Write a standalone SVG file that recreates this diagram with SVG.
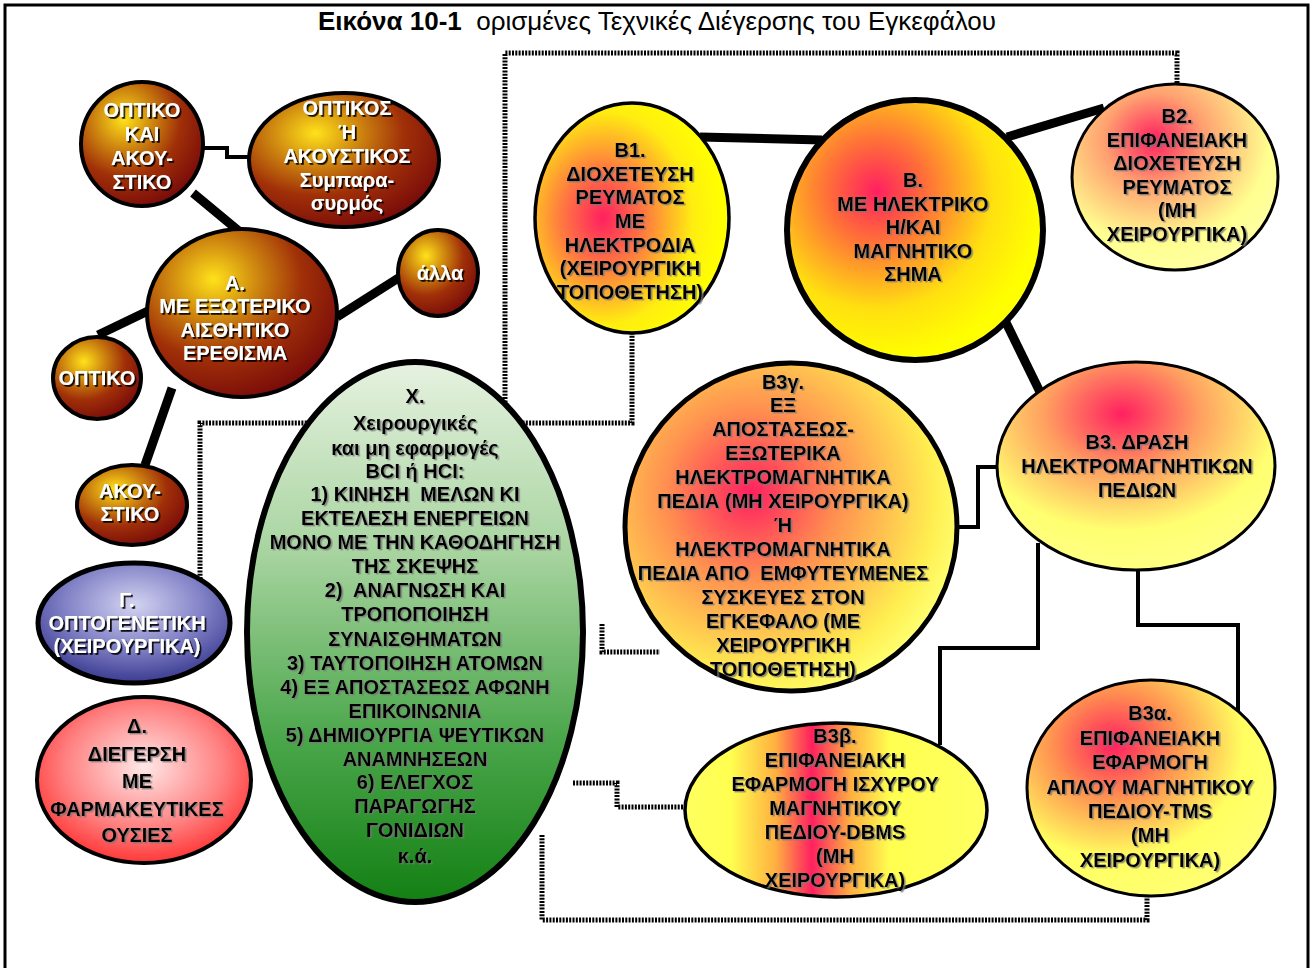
<svg xmlns="http://www.w3.org/2000/svg" width="1314" height="968" viewBox="0 0 1314 968">
<style>
.t{font-family:"Liberation Sans",Arial,sans-serif;font-weight:bold;font-size:20px;text-anchor:middle;white-space:pre}
.w{fill:#fff;filter:url(#shW)}
.k{fill:#000;filter:url(#shK)}
.dot{fill:none;stroke:#000;stroke-width:5;stroke-dasharray:2 1.3}
.thick{fill:none;stroke:#000;stroke-width:9}
.thin{fill:none;stroke:#000;stroke-width:4}
</style>
<defs>
<filter id="shW" x="-10%" y="-20%" width="130%" height="150%"><feDropShadow dx="1.8" dy="1.8" stdDeviation="0.3" flood-color="#000" flood-opacity="0.9"/></filter>
<filter id="shK" x="-10%" y="-20%" width="130%" height="150%"><feDropShadow dx="1.6" dy="1.4" stdDeviation="0.4" flood-color="#777" flood-opacity="0.8"/></filter>
<radialGradient id="gBrown" cx="0.35" cy="0.3" r="0.75" fx="0.35" fy="0.3"><stop offset="0" stop-color="#ffe21a"/><stop offset="0.3" stop-color="#d08a10"/><stop offset="0.62" stop-color="#a03008"/><stop offset="1" stop-color="#780a0a"/></radialGradient>
<radialGradient id="gBlue" cx="0.5" cy="0.35" r="0.7"><stop offset="0" stop-color="#d4d4f2"/><stop offset="0.5" stop-color="#8484c8"/><stop offset="1" stop-color="#2e2e88"/></radialGradient>
<radialGradient id="gPink" cx="0.5" cy="0.42" r="0.62"><stop offset="0" stop-color="#ffe8e8"/><stop offset="0.6" stop-color="#ff8080"/><stop offset="1" stop-color="#ff2a2a"/></radialGradient>
<linearGradient id="gGreen" x1="0" y1="0" x2="0" y2="1"><stop offset="0" stop-color="#e6f2e0"/><stop offset="0.35" stop-color="#a8d4a0"/><stop offset="0.7" stop-color="#4aa64a"/><stop offset="1" stop-color="#138013"/></linearGradient>
<radialGradient id="gB1" cx="0.35" cy="0.5" r="0.62"><stop offset="0" stop-color="#ff2060"/><stop offset="0.35" stop-color="#ff7a40"/><stop offset="0.75" stop-color="#ffee10"/><stop offset="1" stop-color="#ffff00"/></radialGradient>
<radialGradient id="gB" cx="0.35" cy="0.35" r="0.65"><stop offset="0" stop-color="#ff2060"/><stop offset="0.3" stop-color="#ff7038"/><stop offset="0.7" stop-color="#ffe010"/><stop offset="1" stop-color="#ffff00"/></radialGradient>
<radialGradient id="gB2" cx="0.4" cy="0.3" r="0.7"><stop offset="0" stop-color="#ff2060"/><stop offset="0.35" stop-color="#ffa070"/><stop offset="0.8" stop-color="#ffff90"/><stop offset="1" stop-color="#ffffa0"/></radialGradient>
<radialGradient id="gB3" cx="0.45" cy="0.25" r="0.7"><stop offset="0" stop-color="#ff2060"/><stop offset="0.4" stop-color="#ffa060"/><stop offset="0.8" stop-color="#ffff70"/><stop offset="1" stop-color="#ffff80"/></radialGradient>
<radialGradient id="gB3g" cx="0.38" cy="0.4" r="0.65"><stop offset="0" stop-color="#ff2060"/><stop offset="0.4" stop-color="#ff9050"/><stop offset="0.85" stop-color="#ffee50"/><stop offset="1" stop-color="#ffff70"/></radialGradient>
<linearGradient id="gB3b" x1="0" y1="0" x2="1" y2="0"><stop offset="0" stop-color="#ffff60"/><stop offset="0.15" stop-color="#ffff50"/><stop offset="0.3" stop-color="#ffb040"/><stop offset="0.42" stop-color="#ff2060"/><stop offset="0.55" stop-color="#ffb040"/><stop offset="0.68" stop-color="#ffff50"/><stop offset="1" stop-color="#ffff60"/></linearGradient>
<radialGradient id="gB3a" cx="0.35" cy="0.3" r="0.7"><stop offset="0" stop-color="#ff2060"/><stop offset="0.35" stop-color="#ff9050"/><stop offset="0.75" stop-color="#ffff60"/><stop offset="1" stop-color="#ffff70"/></radialGradient>
</defs>
<rect x="0" y="0" width="1314" height="968" fill="#fff"/>
<path d="M5,968 V5 H1308 V968" fill="none" stroke="#000" stroke-width="3"/>
<text x="657" y="30" style="font-family:'Liberation Sans',Arial,sans-serif;font-size:26px;text-anchor:middle;white-space:pre"><tspan font-weight="bold">Εικόνα 10-1</tspan>  ορισμένες Τεχνικές Διέγερσης του Εγκεφάλου</text>

<g id="connectors">
<path class="dot" d="M1177,83 V53 H505 V402"/>
<path class="dot" d="M200,579 V423 H632 V333"/>
<path class="dot" d="M602,624 V652 H660"/>
<path class="dot" d="M573,783 H617 V807 H687"/>
<path class="dot" d="M542,835 V920 H1147 V897"/>
<path class="thin" d="M203,148 H227 V157 H250"/>
<line class="thick" x1="193" y1="193" x2="240" y2="232"/>
<line class="thick" x1="337" y1="317" x2="400" y2="277"/>
<line class="thick" x1="98" y1="335" x2="150" y2="310"/>
<line class="thick" x1="172" y1="388" x2="145" y2="465"/>
<line class="thick" x1="700" y1="137" x2="822" y2="140"/>
<line class="thick" x1="1007" y1="137" x2="1104" y2="108"/>
<line class="thick" x1="995" y1="300" x2="1040" y2="392"/>
<path class="thin" d="M998,467 H978 V527 H955"/>
<path class="thin" d="M1038,543 V648 H940 V745"/>
<path class="thin" d="M1138,570 V625 H1238 V712"/>
</g>

<g id="n-optiko-kai">
<ellipse cx="142" cy="144" rx="61" ry="62" fill="url(#gBrown)" stroke="#000" stroke-width="4"/>
<text class="t w" x="142" y="117">ΟΠΤΙΚΟ</text>
<text class="t w" x="142" y="141">ΚΑΙ</text>
<text class="t w" x="142" y="165">ΑΚΟΥ-</text>
<text class="t w" x="142" y="189">ΣΤΙΚΟ</text>
</g>
<g id="n-optikos-i">
<ellipse cx="344" cy="160" rx="95" ry="67" fill="url(#gBrown)" stroke="#000" stroke-width="4"/>
<text class="t w" x="347" y="115">ΟΠΤΙΚΟΣ</text>
<text class="t w" x="347" y="139">Ή</text>
<text class="t w" x="347" y="163">ΑΚΟΥΣΤΙΚΟΣ</text>
<text class="t w" x="347" y="187">Συμπαρα-</text>
<text class="t w" x="347" y="210">συρμός</text>
</g>
<g id="n-A">
<ellipse cx="242" cy="313" rx="95" ry="84" fill="url(#gBrown)" stroke="#000" stroke-width="4"/>
<text class="t w" x="235" y="290">Α.</text>
<text class="t w" x="235" y="313">ΜΕ ΕΞΩΤΕΡΙΚΟ</text>
<text class="t w" x="235" y="337">ΑΙΣΘΗΤΙΚΟ</text>
<text class="t w" x="235" y="360">ΕΡΕΘΙΣΜΑ</text>
</g>
<g id="n-alla">
<ellipse cx="438" cy="273" rx="40" ry="43" fill="url(#gBrown)" stroke="#000" stroke-width="4"/>
<text class="t w" x="440" y="280">άλλα</text>
</g>
<g id="n-optiko">
<ellipse cx="97" cy="378" rx="44" ry="41" fill="url(#gBrown)" stroke="#000" stroke-width="4"/>
<text class="t w" x="97" y="385">ΟΠΤΙΚΟ</text>
</g>
<g id="n-akoustiko">
<ellipse cx="132" cy="505" rx="55" ry="40" fill="url(#gBrown)" stroke="#000" stroke-width="4"/>
<text class="t w" x="130" y="498">ΑΚΟΥ-</text>
<text class="t w" x="130" y="521">ΣΤΙΚΟ</text>
</g>
<g id="n-G">
<ellipse cx="134" cy="623" rx="96" ry="60" fill="url(#gBlue)" stroke="#000" stroke-width="5"/>
<text class="t w" x="127" y="607">Γ.</text>
<text class="t w" x="127" y="630">ΟΠΤΟΓΕΝΕΤΙΚΗ</text>
<text class="t w" x="127" y="653">(ΧΕΙΡΟΥΡΓΙΚΑ)</text>
</g>
<g id="n-D">
<ellipse cx="144" cy="780" rx="107" ry="83" fill="url(#gPink)" stroke="#000" stroke-width="4"/>
<text class="t k" x="137" y="733">Δ.</text>
<text class="t k" x="137" y="761">ΔΙΕΓΕΡΣΗ</text>
<text class="t k" x="137" y="788">ΜΕ</text>
<text class="t k" x="137" y="816">ΦΑΡΜΑΚΕΥΤΙΚΕΣ</text>
<text class="t k" x="137" y="842">ΟΥΣΙΕΣ</text>
</g>
<g id="n-X">
<ellipse cx="415" cy="632" rx="168" ry="270" fill="url(#gGreen)" stroke="#000" stroke-width="6"/>
<text class="t k" x="415" y="403">Χ.</text>
<text class="t k" x="415" y="430">Χειρουργικές</text>
<text class="t k" x="415" y="455">και μη εφαρμογές</text>
<text class="t k" x="415" y="478">BCI ή HCI:</text>
<text class="t k" x="415" y="501">1) ΚΙΝΗΣΗ  ΜΕΛΩΝ ΚΙ</text>
<text class="t k" x="415" y="525">ΕΚΤΕΛΕΣΗ ΕΝΕΡΓΕΙΩΝ</text>
<text class="t k" x="415" y="549">ΜΟΝΟ ΜΕ ΤΗΝ ΚΑΘΟΔΗΓΗΣΗ</text>
<text class="t k" x="415" y="573">ΤΗΣ ΣΚΕΨΗΣ</text>
<text class="t k" x="415" y="597">2)  ΑΝΑΓΝΩΣΗ ΚΑΙ</text>
<text class="t k" x="415" y="621">ΤΡΟΠΟΠΟΙΗΣΗ</text>
<text class="t k" x="415" y="646">ΣΥΝΑΙΣΘΗΜΑΤΩΝ</text>
<text class="t k" x="415" y="670">3) ΤΑΥΤΟΠΟΙΗΣΗ ΑΤΟΜΩΝ</text>
<text class="t k" x="415" y="694">4) ΕΞ ΑΠΟΣΤΑΣΕΩΣ ΑΦΩΝΗ</text>
<text class="t k" x="415" y="718">ΕΠΙΚΟΙΝΩΝΙΑ</text>
<text class="t k" x="415" y="742">5) ΔΗΜΙΟΥΡΓΙΑ ΨΕΥΤΙΚΩΝ</text>
<text class="t k" x="415" y="766">ΑΝΑΜΝΗΣΕΩΝ</text>
<text class="t k" x="415" y="789">6) ΕΛΕΓΧΟΣ</text>
<text class="t k" x="415" y="813">ΠΑΡΑΓΩΓΗΣ</text>
<text class="t k" x="415" y="837">ΓΟΝΙΔΙΩΝ</text>
<text class="t k" x="415" y="863">κ.ά.</text>
</g>
<g id="n-B1">
<ellipse cx="632" cy="218" rx="97" ry="115" fill="url(#gB1)" stroke="#000" stroke-width="3.5"/>
<text class="t k" x="630" y="157">Β1.</text>
<text class="t k" x="630" y="181">ΔΙΟΧΕΤΕΥΣΗ</text>
<text class="t k" x="630" y="204">ΡΕΥΜΑΤΟΣ</text>
<text class="t k" x="630" y="228">ΜΕ</text>
<text class="t k" x="630" y="252">ΗΛΕΚΤΡΟΔΙΑ</text>
<text class="t k" x="630" y="275">(ΧΕΙΡΟΥΡΓΙΚΗ</text>
<text class="t k" x="630" y="299">ΤΟΠΟΘΕΤΗΣΗ)</text>
</g>
<g id="n-B">
<ellipse cx="915" cy="230" rx="128" ry="130" fill="url(#gB)" stroke="#000" stroke-width="6"/>
<text class="t k" x="913" y="187">Β.</text>
<text class="t k" x="913" y="211">ΜΕ ΗΛΕΚΤΡΙΚΟ</text>
<text class="t k" x="913" y="234">Η/ΚΑΙ</text>
<text class="t k" x="913" y="258">ΜΑΓΝΗΤΙΚΟ</text>
<text class="t k" x="913" y="281">ΣΗΜΑ</text>
</g>
<g id="n-B2">
<ellipse cx="1175" cy="177" rx="103" ry="93" fill="url(#gB2)" stroke="#000" stroke-width="3"/>
<text class="t k" x="1177" y="123">Β2.</text>
<text class="t k" x="1177" y="147">ΕΠΙΦΑΝΕΙΑΚΗ</text>
<text class="t k" x="1177" y="170">ΔΙΟΧΕΤΕΥΣΗ</text>
<text class="t k" x="1177" y="194">ΡΕΥΜΑΤΟΣ</text>
<text class="t k" x="1177" y="217">(ΜΗ</text>
<text class="t k" x="1177" y="241">ΧΕΙΡΟΥΡΓΙΚΑ)</text>
</g>
<g id="n-B3">
<ellipse cx="1136" cy="466" rx="139" ry="104" fill="url(#gB3)" stroke="#000" stroke-width="3"/>
<text class="t k" x="1137" y="449">Β3. ΔΡΑΣΗ</text>
<text class="t k" x="1137" y="473">ΗΛΕΚΤΡΟΜΑΓΝΗΤΙΚΩΝ</text>
<text class="t k" x="1137" y="497">ΠΕΔΙΩΝ</text>
</g>
<g id="n-B3g">
<ellipse cx="791" cy="527" rx="166" ry="164" fill="url(#gB3g)" stroke="#000" stroke-width="5"/>
<text class="t k" x="783" y="389">Β3γ.</text>
<text class="t k" x="783" y="412">ΕΞ</text>
<text class="t k" x="783" y="436">ΑΠΟΣΤΑΣΕΩΣ-</text>
<text class="t k" x="783" y="460">ΕΞΩΤΕΡΙΚΑ</text>
<text class="t k" x="783" y="484">ΗΛΕΚΤΡΟΜΑΓΝΗΤΙΚΑ</text>
<text class="t k" x="783" y="508">ΠΕΔΙΑ (ΜΗ ΧΕΙΡΟΥΡΓΙΚΑ)</text>
<text class="t k" x="783" y="532">Ή</text>
<text class="t k" x="783" y="556">ΗΛΕΚΤΡΟΜΑΓΝΗΤΙΚΑ</text>
<text class="t k" x="783" y="580">ΠΕΔΙΑ ΑΠΟ  ΕΜΦΥΤΕΥΜΕΝΕΣ</text>
<text class="t k" x="783" y="604">ΣΥΣΚΕΥΕΣ ΣΤΟΝ</text>
<text class="t k" x="783" y="628">ΕΓΚΕΦΑΛΟ (ΜΕ</text>
<text class="t k" x="783" y="652">ΧΕΙΡΟΥΡΓΙΚΗ</text>
<text class="t k" x="783" y="676">ΤΟΠΟΘΕΤΗΣΗ)</text>
</g>
<g id="n-B3b">
<ellipse cx="836" cy="810" rx="151" ry="87" fill="url(#gB3b)" stroke="#000" stroke-width="3.5"/>
<text class="t k" x="835" y="743">Β3β.</text>
<text class="t k" x="835" y="767">ΕΠΙΦΑΝΕΙΑΚΗ</text>
<text class="t k" x="835" y="791">ΕΦΑΡΜΟΓΗ ΙΣΧΥΡΟΥ</text>
<text class="t k" x="835" y="815">ΜΑΓΝΗΤΙΚΟΥ</text>
<text class="t k" x="835" y="839">ΠΕΔΙΟΥ-DBMS</text>
<text class="t k" x="835" y="863">(ΜΗ</text>
<text class="t k" x="835" y="887">ΧΕΙΡΟΥΡΓΙΚΑ)</text>
</g>
<g id="n-B3a">
<ellipse cx="1151" cy="788" rx="124" ry="108" fill="url(#gB3a)" stroke="#000" stroke-width="3"/>
<text class="t k" x="1150" y="720">Β3α.</text>
<text class="t k" x="1150" y="745">ΕΠΙΦΑΝΕΙΑΚΗ</text>
<text class="t k" x="1150" y="769">ΕΦΑΡΜΟΓΗ</text>
<text class="t k" x="1150" y="794">ΑΠΛΟΥ ΜΑΓΝΗΤΙΚΟΥ</text>
<text class="t k" x="1150" y="818">ΠΕΔΙΟΥ-TMS</text>
<text class="t k" x="1150" y="842">(ΜΗ</text>
<text class="t k" x="1150" y="867">ΧΕΙΡΟΥΡΓΙΚΑ)</text>
</g>
</svg>
